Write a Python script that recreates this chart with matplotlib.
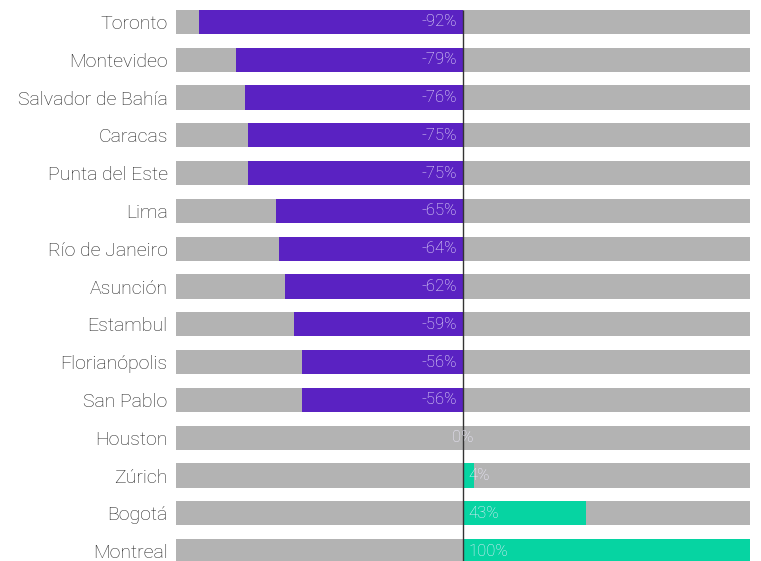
import matplotlib.pyplot as plt

# datos: variación porcentual por ciudad
ciudades = ['Toronto', 'Montevideo', 'Salvador de Bahía', 'Caracas', 'Punta del Este',
            'Lima', 'Río de Janeiro', 'Asunción', 'Estambul', 'Florianópolis',
            'San Pablo', 'Houston', 'Zúrich', 'Bogotá', 'Montreal']
valores = [-92, -79, -76, -75, -75, -65, -64, -62, -59, -56, -56, 0, 4, 43, 100]

morado = '#5a22c2'
verde = '#06d4a2'
gris = '#b3b3b3'

plt.rcParams['font.family'] = ['Roboto', 'DejaVu Sans']

fig = plt.figure(figsize=(7.61, 5.61), dpi=100)
ax = fig.add_axes([176 / 761, 0, 574 / 761, 1])

y = list(range(len(ciudades)))
alto = 0.64

# barras de fondo
ax.barh(y, [200] * len(y), left=-100, height=alto, color=gris, zorder=1)
colores = [morado if v < 0 else verde for v in valores]
ax.barh(y, valores, height=alto, color=colores, zorder=2)

ax.vlines(0, -alto / 2, len(y), color='#333333', linewidth=1, zorder=3)

for yi, v in zip(y, valores):
    if v < 0:
        ha, xt = 'right', -2
    elif v == 0:
        ha, xt = 'center', 0
    else:
        ha, xt = 'left', 2
    ax.text(xt, yi, f'{v}%', ha=ha, va='center', color='#f0ecff',
            fontsize=12, fontweight='light', zorder=4)

ax.set_xlim(-100, 100)
ax.set_ylim(14.26, -0.582)
ax.set_yticks(y)
ax.set_yticklabels(ciudades, fontsize=14, color='#222222', fontweight='light')
ax.tick_params(axis='y', length=0, pad=6)
ax.set_xticks([])
for s in ax.spines.values():
    s.set_visible(False)

fig.savefig('out.png', dpi=100)
